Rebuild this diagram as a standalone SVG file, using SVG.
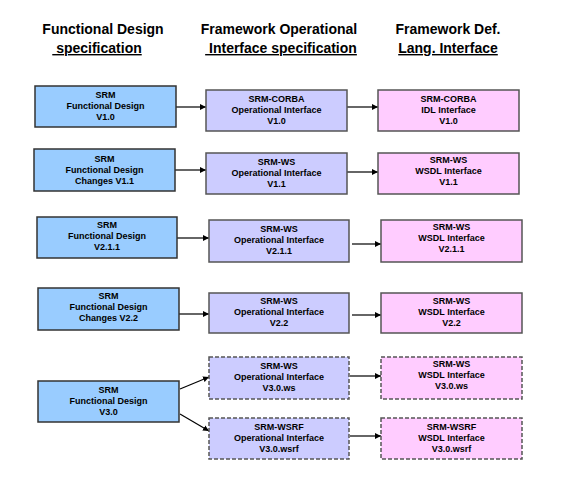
<svg xmlns="http://www.w3.org/2000/svg" width="576" height="492" viewBox="0 0 576 492">
<style>
.h{font-family:"Liberation Sans",Arial,sans-serif;font-weight:bold;font-size:14px;fill:#000;text-anchor:middle;white-space:pre}
.u{text-decoration:underline}
.t{font-family:"Liberation Sans",Arial,sans-serif;font-weight:bold;font-size:9px;fill:#000;text-anchor:middle}
.b{fill:#99CCFF;stroke:#333;stroke-width:1.5}
.p{fill:#CCCCFF;stroke:#555;stroke-width:1.5}
.k{fill:#FFCCFF;stroke:#555;stroke-width:1.5}
.d{stroke-dasharray:4 2}
.c line{stroke:#000;stroke-width:1.2;marker-end:url(#ah)}
</style>
<defs>
<marker id="ah" viewBox="0 0 10 10" refX="10" refY="5" markerWidth="6" markerHeight="6" markerUnits="userSpaceOnUse" orient="auto">
<path d="M0,0 L10,5 L0,10 z" fill="#000"/>
</marker>
</defs>
<rect width="576" height="492" fill="#fff"/>
<g id="headers">
<text class="h" x="103" y="34">Functional Design</text>
<text class="h u" x="97" y="53"> specification</text>
<text class="h" x="279" y="34">Framework Operational</text>
<text class="h u" x="281" y="53"> Interface specification</text>
<text class="h" x="448" y="34">Framework Def.</text>
<text class="h u" x="448" y="53">Lang. Interface</text>
</g>
<g class="c" id="connectors">
<line x1="176" y1="107" x2="206" y2="107"/>
<line x1="347" y1="107" x2="378" y2="107"/>
<line x1="175" y1="170" x2="206" y2="170"/>
<line x1="347" y1="172" x2="378" y2="172"/>
<line x1="177" y1="238" x2="209" y2="238"/>
<line x1="352" y1="244" x2="381" y2="244"/>
<line x1="179" y1="314" x2="209" y2="314"/>
<line x1="352" y1="315" x2="381" y2="315"/>
<line x1="180" y1="389" x2="209" y2="377"/>
<line x1="180" y1="414" x2="209" y2="431"/>
<line x1="350" y1="376" x2="381" y2="376"/>
<line x1="350" y1="436" x2="381" y2="436"/>
</g>
<g id="fd10"><rect class="b" x="35" y="86" width="141" height="41"/>
<text class="t" x="105.5" y="98">SRM</text><text class="t" x="105.5" y="109">Functional Design</text><text class="t" x="105.5" y="120">V1.0</text></g>
<g id="fd11"><rect class="b" x="34" y="149" width="141" height="42"/>
<text class="t" x="104.5" y="162">SRM</text><text class="t" x="104.5" y="173">Functional Design</text><text class="t" x="104.5" y="184">Changes V1.1</text></g>
<g id="fd211"><rect class="b" x="37" y="217" width="140" height="41"/>
<text class="t" x="107" y="228">SRM</text><text class="t" x="107" y="239">Functional Design</text><text class="t" x="107" y="250">V2.1.1</text></g>
<g id="fd22"><rect class="b" x="38" y="288" width="141" height="42"/>
<text class="t" x="108.5" y="299">SRM</text><text class="t" x="108.5" y="310">Functional Design</text><text class="t" x="108.5" y="321">Changes V2.2</text></g>
<g id="fd30"><rect class="b" x="38" y="381" width="141" height="41"/>
<text class="t" x="108.5" y="393">SRM</text><text class="t" x="108.5" y="404">Functional Design</text><text class="t" x="108.5" y="415">V3.0</text></g>

<g id="op10"><rect class="p" x="206" y="90" width="141" height="41"/>
<text class="t" x="276.5" y="102">SRM-CORBA</text><text class="t" x="276.5" y="113">Operational Interface</text><text class="t" x="276.5" y="124">V1.0</text></g>
<g id="op11"><rect class="p" x="206" y="153" width="141" height="41"/>
<text class="t" x="276.5" y="165">SRM-WS</text><text class="t" x="276.5" y="176">Operational Interface</text><text class="t" x="276.5" y="187">V1.1</text></g>
<g id="op211"><rect class="p" x="209" y="220" width="140" height="42"/>
<text class="t" x="279" y="232">SRM-WS</text><text class="t" x="279" y="243">Operational Interface</text><text class="t" x="279" y="254">V2.1.1</text></g>
<g id="op22"><rect class="p" x="209" y="293" width="140" height="40"/>
<text class="t" x="279" y="304">SRM-WS</text><text class="t" x="279" y="315">Operational Interface</text><text class="t" x="279" y="326">V2.2</text></g>
<g id="op30ws"><rect class="p d" x="209" y="357" width="140" height="42"/>
<text class="t" x="279" y="369">SRM-WS</text><text class="t" x="279" y="380">Operational Interface</text><text class="t" x="279" y="391">V3.0.ws</text></g>
<g id="op30wsrf"><rect class="p d" x="209" y="418" width="140" height="41"/>
<text class="t" x="279" y="430">SRM-WSRF</text><text class="t" x="279" y="441">Operational Interface</text><text class="t" x="279" y="452">V3.0.wsrf</text></g>

<g id="dl10"><rect class="k" x="378" y="90" width="141" height="41"/>
<text class="t" x="448.5" y="102">SRM-CORBA</text><text class="t" x="448.5" y="113">IDL Interface</text><text class="t" x="448.5" y="124">V1.0</text></g>
<g id="dl11"><rect class="k" x="378" y="153" width="141" height="41"/>
<text class="t" x="448.5" y="163">SRM-WS</text><text class="t" x="448.5" y="174">WSDL Interface</text><text class="t" x="448.5" y="185">V1.1</text></g>
<g id="dl211"><rect class="k" x="381" y="220" width="141" height="42"/>
<text class="t" x="451.5" y="230">SRM-WS</text><text class="t" x="451.5" y="241">WSDL Interface</text><text class="t" x="451.5" y="252">V2.1.1</text></g>
<g id="dl22"><rect class="k" x="381" y="293" width="141" height="40"/>
<text class="t" x="451.5" y="304">SRM-WS</text><text class="t" x="451.5" y="315">WSDL Interface</text><text class="t" x="451.5" y="326">V2.2</text></g>
<g id="dl30ws"><rect class="k d" x="381" y="357" width="141" height="42"/>
<text class="t" x="451.5" y="367">SRM-WS</text><text class="t" x="451.5" y="378">WSDL Interface</text><text class="t" x="451.5" y="389">V3.0.ws</text></g>
<g id="dl30wsrf"><rect class="k d" x="381" y="418" width="141" height="41"/>
<text class="t" x="451.5" y="430">SRM-WSRF</text><text class="t" x="451.5" y="441">WSDL Interface</text><text class="t" x="451.5" y="452">V3.0.wsrf</text></g>
</svg>
